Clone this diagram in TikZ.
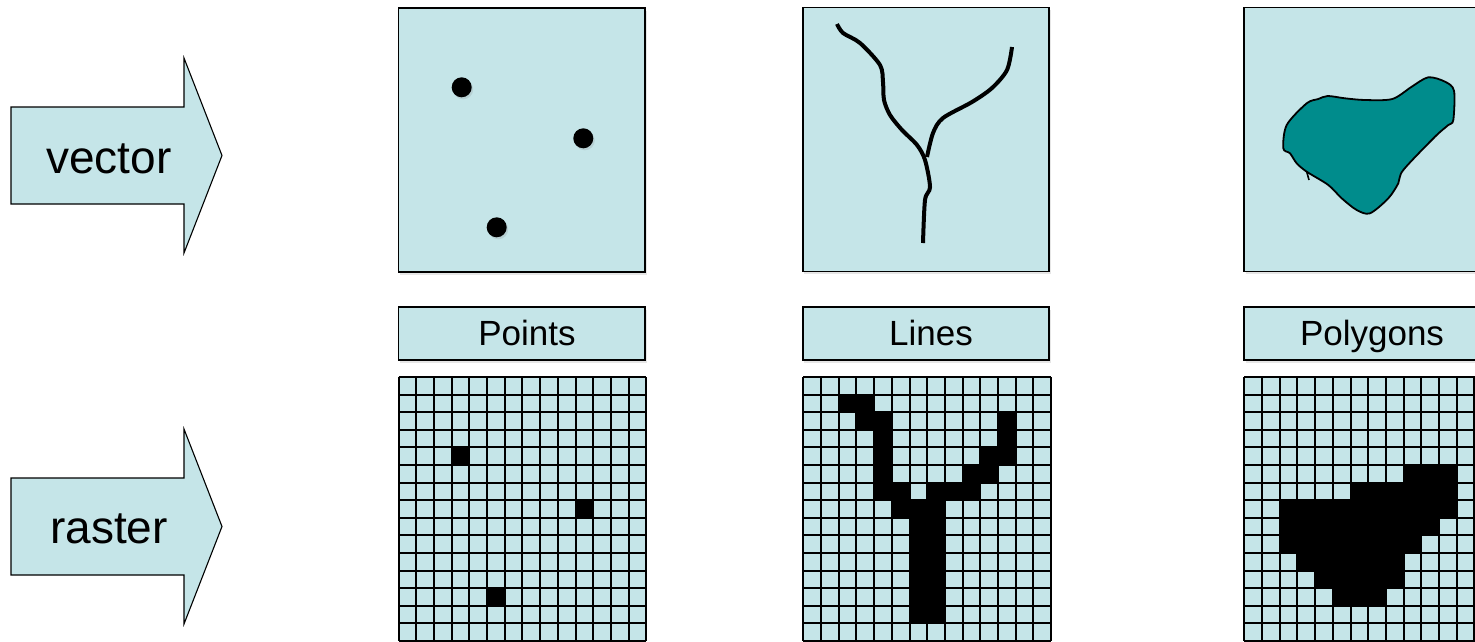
\documentclass[tikz,border=0pt]{standalone}
\usepackage{fontspec}
\setmainfont{Liberation Sans}
\usetikzlibrary{shadows}
\definecolor{panelblue}{RGB}{197,229,232}
\definecolor{polyteal}{RGB}{0,140,140}
\begin{document}
\begin{tikzpicture}[x=1pt, y=-1pt]
  \tikzstyle{panel}=[draw, line width=1.6pt, fill=panelblue, drop shadow={shadow xshift=1.5pt, shadow yshift=-2.5pt, opacity=0.2}]
  \tikzstyle{vecbox}=[panel, minimum width=246.5pt, minimum height=264pt, inner sep=0pt]
  \tikzstyle{labbox}=[panel, minimum width=246.5pt, minimum height=53pt, inner sep=0pt]
  \tikzstyle{labtext}=[anchor=base, inner sep=0pt, font=\fontsize{35}{40}\selectfont]
  \tikzstyle{arrtext}=[anchor=base, inner sep=0pt, font=\fontsize{46}{50}\selectfont]
  \tikzstyle{bigarrow}=[draw, line width=1.1pt, fill=panelblue]
  \tikzstyle{dot}=[circle, fill, minimum size=20pt, inner sep=0pt, drop shadow={shadow xshift=1.5pt, shadow yshift=-2pt, opacity=0.2}]
  \tikzstyle{gridline}=[line width=2pt]
  \useasboundingbox (0,0) rectangle (1475,641);

  \draw[bigarrow] (11,107) -- (184,107) -- (184,58) -- (222,155.5) -- (184,253) -- (184,204) -- (11,204) -- cycle;
  \node[arrtext] (vec) at (109,173) {vector};
  \draw[bigarrow] (11,478) -- (184,478) -- (184,429) -- (222,526.5) -- (184,624) -- (184,575) -- (11,575) -- cycle;
  \node[arrtext] (ras) at (109,543) {raster};

  \node[vecbox] (ptvec) at (521.75,140) {};
  \node[vecbox] (lnvec) at (926,139.5) {};
  \node[vecbox] (pgvec) at (1367.25,139.5) {};

  \node[dot] (p1) at (461.7,87.3) {};
  \node[dot] (p2) at (583.3,138.3) {};
  \node[dot] (p3) at (496.7,227.3) {};

  \draw[line width=4pt] plot[smooth, tension=0.5] coordinates {(837,24) (843,33) (860,43) (880,65) (883,82) (884,100) (890,115) (902,130) (917,145) (925,160) (930,187) (925,200) (923,243)};
  \draw[line width=4pt] plot[smooth, tension=0.5] coordinates {(1012,47) (1007,70) (992,88) (972,102) (943,118) (933,133) (927,157)};

  \filldraw[fill=polyteal, line width=1.8pt] plot[smooth cycle, tension=0.5] coordinates {(1327.7,96) (1345,98.3) (1365,100) (1392.3,99) (1411.7,86.7) (1428.3,77.3) (1445,81.7) (1454,90.7) (1453.3,120) (1448.3,125) (1435,136.7) (1403.3,170) (1398.3,183.3) (1388.3,198.3) (1370,213.3) (1356.7,210) (1341.7,198.3) (1328.3,185) (1306.7,171.7) (1296.7,163.3) (1290,153.3) (1283.3,148.3) (1286.7,125) (1306.7,103.3) (1318.3,99)};
  \draw[line width=1.6pt] (1306.7,171.7) -- (1309,180);

  \node[labbox] (ptlab) at (521.75,333.5) {};
  \node[labbox] (lnlab) at (926,333.5) {};
  \node[labbox] (pglab) at (1367.25,333.5) {};
  \node[labtext] (pttext) at (527,345) {Points};
  \node[labtext] (lntext) at (931,345) {Lines};
  \node[labtext] (pgtext) at (1372,345) {Polygons};

  \foreach \gx in {398.5,803.3,1244.3}
    \fill[panelblue] (\gx,377) rectangle ++(247.8,264);
  \foreach \r/\a/\b in {4/3/3, 7/10/10, 12/5/5}
    \fill (398.5+\a*17.7,377+\r*17.6) rectangle ++({(\b-\a+1)*17.7},17.6);
  \foreach \r/\a/\b in {1/2/3, 2/3/4, 2/11/11, 3/4/4, 3/11/11, 4/4/4, 4/10/11, 5/4/4, 5/9/10, 6/4/5, 6/7/9, 7/5/7, 8/6/7, 9/6/7, 10/6/7, 11/6/7, 12/6/7, 13/6/7}
    \fill (803.3+\a*17.7,377+\r*17.6) rectangle ++({(\b-\a+1)*17.7},17.6);
  \foreach \r/\a/\b in {5/9/11, 6/6/11, 7/2/11, 8/2/10, 9/2/9, 10/3/8, 11/4/8, 12/5/7}
    \fill (1244.3+\a*17.7,377+\r*17.6) rectangle ++({(\b-\a+1)*17.7},17.6);
  \foreach \gx in {398.5,803.3,1244.3} {
    \foreach \i in {0,...,14}
      \draw[gridline] (\gx+\i*17.7,377) -- ++(0,264);
    \foreach \j in {0,...,15}
      \draw[gridline] (\gx,377+\j*17.6) -- ++(247.8,0);
  }
\end{tikzpicture}
\end{document}
